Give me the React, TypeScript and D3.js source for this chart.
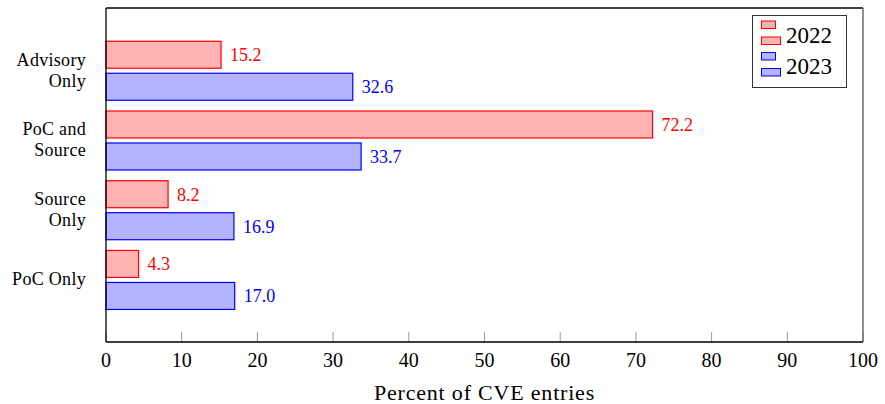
import React from "react";
import * as d3 from "d3";

const categories = [["PoC Only"], ["Source", "Only"], ["PoC and", "Source"], ["Advisory", "Only"]];
const values2022 = [4.3, 8.2, 72.2, 15.2];
const values2023 = [17.0, 16.9, 33.7, 32.6];
const xTicks = [0, 10, 20, 30, 40, 50, 60, 70, 80, 90, 100];
const seriesNames = ["2022", "2023"];

const W = 885;
const H = 404;
const left = 106;
const right = 863;
const top = 8;
const bottom = 342;
const font = "'Liberation Serif', 'DejaVu Serif', serif";

const red = { fill: "#ffb3b3", stroke: "#ff0000" };
const blue = { fill: "#b3b3ff", stroke: "#0000ff" };

const App = () => {
  const x = d3.scaleLinear().domain([0, 100]).range([left, right]);
  const y = d3.scaleLinear().domain([-0.89, 3.9]).range([bottom, top]);
  const barH = 27;
  const gap = 2.5;

  const bars = (vals: number[], col: { fill: string; stroke: string }, upper: boolean) =>
    vals.map((v, i) => {
      const cy = y(i);
      const y0 = upper ? cy - gap - barH : cy + gap;
      return (
        <g key={i}>
          <rect
            x={x(0)}
            y={y0}
            width={x(v) - x(0)}
            height={barH}
            fill={col.fill}
            stroke={col.stroke}
            strokeWidth={1.2}
          />
          <text
            x={x(v) + 9}
            y={y0 + barH / 2 + 6.5}
            fill={col.stroke}
            fontSize={18}
            fontFamily={font}
          >
            {v.toFixed(1)}
          </text>
        </g>
      );
    });

  const legendIcon = (yy: number, col: { fill: string; stroke: string }) => (
    <g>
      <rect x={761.5} y={yy} width={14} height={7.5} fill={col.fill} stroke={col.stroke} strokeWidth={1} />
      <rect x={761.5} y={yy + 16} width={19} height={7.5} fill={col.fill} stroke={col.stroke} strokeWidth={1} />
    </g>
  );

  return (
    <svg width={W} height={H} style={{ position: "absolute", left: 0, top: 0 }}>
      <rect x={0} y={0} width={W} height={H} fill="#fff" />
      {xTicks.map((t) => (
        <g key={t}>
          <line x1={x(t)} x2={x(t)} y1={bottom} y2={bottom - 10} stroke="#999" strokeWidth={1} />
          <text x={x(t)} y={367} textAnchor="middle" fontSize={20} fontFamily={font} fill="#000">
            {t}
          </text>
        </g>
      ))}
      {bars(values2022, red, true)}
      {bars(values2023, blue, false)}
      <line x1={left} x2={right} y1={top} y2={top} stroke="#000" strokeWidth={1.3} />
      <line x1={left} x2={left} y1={top} y2={bottom} stroke="#000" strokeWidth={1.3} />
      <line x1={left} x2={right} y1={bottom} y2={bottom} stroke="#000" strokeWidth={1.3} />
      <line x1={right} x2={right} y1={top} y2={bottom} stroke="#555" strokeWidth={1.3} />
      {categories.map((lines, i) => (
        <text key={i} textAnchor="end" fontSize={18} letterSpacing={0.3} fontFamily={font} fill="#000">
          {lines.map((l, j) => (
            <tspan key={j} x={86} y={y(i) + 5.5 + (j - (lines.length - 1) / 2) * 21}>
              {l}
            </tspan>
          ))}
        </text>
      ))}
      <text
        x={(left + right) / 2}
        y={400}
        textAnchor="middle"
        fontSize={22}
        letterSpacing={0.8}
        fontFamily={font}
        fill="#000"
      >
        Percent of CVE entries
      </text>
      <rect x={752.5} y={15.5} width={94} height={72} fill="#fff" stroke="#333" strokeWidth={1} />
      {legendIcon(21, red)}
      <text x={786} y={43} fontSize={23} fontFamily={font} fill="#000">{seriesNames[0]}</text>
      {legendIcon(52.5, blue)}
      <text x={786} y={74} fontSize={23} fontFamily={font} fill="#000">{seriesNames[1]}</text>
    </svg>
  );
};

export default App;
